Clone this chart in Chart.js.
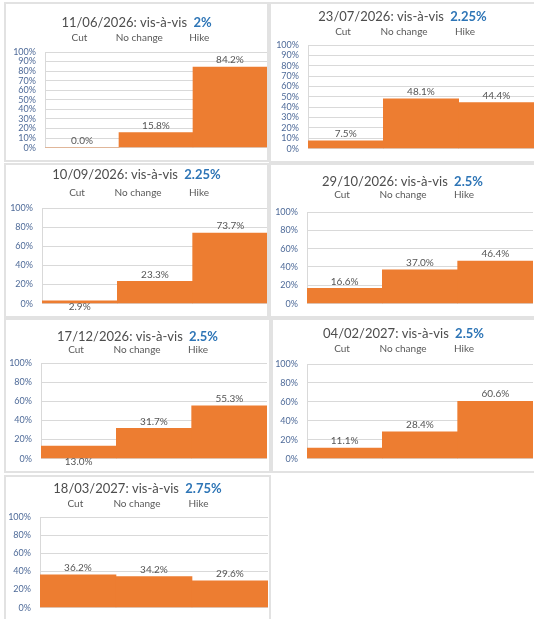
<!DOCTYPE html>
<html>
<head>
<meta charset="utf-8">
<script src="https://cdn.jsdelivr.net/npm/chart.js@4.4.0/dist/chart.umd.min.js"></script>
<style>
  body { margin: 0; background: #fff; width: 534px; height: 619px; overflow: hidden; position: relative; }
  canvas { position: absolute; }
  .frame { position: absolute; box-sizing: border-box; border: 2px solid #e2e2e2; pointer-events: none; }
</style>
</head>
<body>
<script>
// meeting dates and the rate each chart compares against
const meetingDates = ["11/06/2026", "23/07/2026", "10/09/2026", "29/10/2026", "17/12/2026", "04/02/2027", "18/03/2027"];
const comparedRates = ["2%", "2.25%", "2.25%", "2.5%", "2.5%", "2.5%", "2.75%"];
const categories = ["Cut", "No change", "Hike"];

// probabilities (%) for Cut / No change / Hike
const probJun26 = [0.0, 15.8, 84.2];
const probJul26 = [7.5, 48.1, 44.4];
const probSep26 = [2.9, 23.3, 73.7];
const probOct26 = [16.6, 37.0, 46.4];
const probDec26 = [13.0, 31.7, 55.3];
const probFeb27 = [11.1, 28.4, 60.6];
const probMar27 = [36.2, 34.2, 29.6];
const allProbs = [probJun26, probJul26, probSep26, probOct26, probDec26, probFeb27, probMar27];

// y tick step per chart (first two use 10%, the rest 20%)
const yStep = [10, 10, 20, 20, 20, 20, 20];

// panel boxes: [x0, y0, x1, y1], plot area [left, top, right, bottom], title y, header y
const panels = [
  { box: [4, 2, 269, 162],   area: [45, 52, 267, 153],   titleY: 23,  headY: 38 },
  { box: [269, 2, 536, 163], area: [308, 45, 534, 153],  titleY: 17,  headY: 32 },
  { box: [4, 163, 269, 318], area: [42, 208, 268, 310],  titleY: 175, headY: 193 },
  { box: [269, 163, 536, 318], area: [307, 212, 533, 309], titleY: 182, headY: 195 },
  { box: [4, 318, 271, 473], area: [41, 363, 267, 466],  titleY: 337, headY: 350 },
  { box: [271, 318, 536, 473], area: [307, 364, 533, 465], titleY: 334, headY: 349 },
  { box: [4, 475, 271, 622], area: [40, 517, 268, 614],  titleY: 489, headY: 504 }
];
// a couple of small labels sit under the axis in the original
const labelsUnderAxis = { 2: [0], 4: [0] };

const FONT = "Lato, 'Open Sans', sans-serif";
const GREY = "#595959";

const headerPlugin = {
  id: "header",
  afterDraw(chart, args, o) {
    const { ctx, chartArea: a } = chart;
    ctx.save();
    // title: grey date part + blue rate
    const t1 = o.date + ": vis-\u00e0-vis ";
    ctx.font = "13px " + FONT;
    const w1 = ctx.measureText(t1).width + 3;
    ctx.font = "bold 13px " + FONT;
    const w2 = ctx.measureText(o.rate).width;
    let x = chart.width / 2 - (w1 + w2) / 2;
    ctx.textBaseline = "middle";
    ctx.textAlign = "left";
    ctx.font = "13px " + FONT;
    ctx.fillStyle = "#4d4d4d";
    ctx.fillText(t1, x, o.titleY);
    ctx.font = "bold 13px " + FONT;
    ctx.fillStyle = "#2E75B6";
    ctx.fillText(o.rate, x + w1, o.titleY);

    // category header row
    ctx.font = "10px " + FONT;
    ctx.fillStyle = GREY;
    ctx.textAlign = "center";
    const w = a.right - a.left;
    chart.data.labels.forEach((lab, i) => {
      ctx.fillText(lab, a.left + w * (0.155 + 0.27 * i), o.headY);
    });

    // value labels
    const ds = chart.data.datasets[0];
    ctx.font = "10px " + FONT;
    ctx.fillStyle = "#555";
    chart.getDatasetMeta(0).data.forEach((bar, i) => {
      const under = (o.under || []).includes(i);
      const y = under ? bar.base + 4 : bar.y - 7;
      ctx.fillText(ds.data[i].toFixed(1) + "%", bar.x, y);
    });
    ctx.restore();
  }
};

panels.forEach((p, k) => {
  const [x0, y0, x1, y1] = p.box;
  const [al, at, ar, ab] = p.area;
  const cv = document.createElement("canvas");
  cv.width = x1 - x0; cv.height = y1 - y0;
  cv.style.left = x0 + "px"; cv.style.top = y0 + "px";
  document.body.appendChild(cv);
  const fr = document.createElement("div");
  fr.className = "frame";
  fr.style.cssText = `left:${x0}px;top:${y0}px;width:${x1 - x0}px;height:${y1 - y0}px`;
  document.body.appendChild(fr);

  new Chart(cv, {
    type: "bar",
    data: {
      labels: categories,
      datasets: [{
        data: allProbs[k],
        backgroundColor: "#ED7D31",
        borderWidth: 0,
        barPercentage: 1.0,
        categoryPercentage: 1.0
      }]
    },
    options: {
      responsive: false,
      animation: false,
      devicePixelRatio: 1,
      layout: { padding: { left: 0, top: at - y0, right: x1 - ar, bottom: y1 - ab } },
      plugins: {
        legend: { display: false },
        tooltip: { enabled: false },
        header: { date: meetingDates[k], rate: comparedRates[k], titleY: p.titleY - y0, headY: p.headY - y0, under: labelsUnderAxis[k] }
      },
      scales: {
        x: { display: false },
        y: {
          min: 0, max: 100,
          afterFit(s) { s.width = al - x0; },
          ticks: {
            stepSize: yStep[k],
            autoSkip: false,
            padding: 9,
            color: "#4F6B99",
            font: { family: FONT, size: 9 },
            callback: v => v + "%"
          },
          grid: { color: "#d9d9d9", drawTicks: false },
          border: { display: true, color: "#d9d9d9" }
        }
      }
    },
    plugins: [headerPlugin]
  });
});
</script>
</body>
</html>
